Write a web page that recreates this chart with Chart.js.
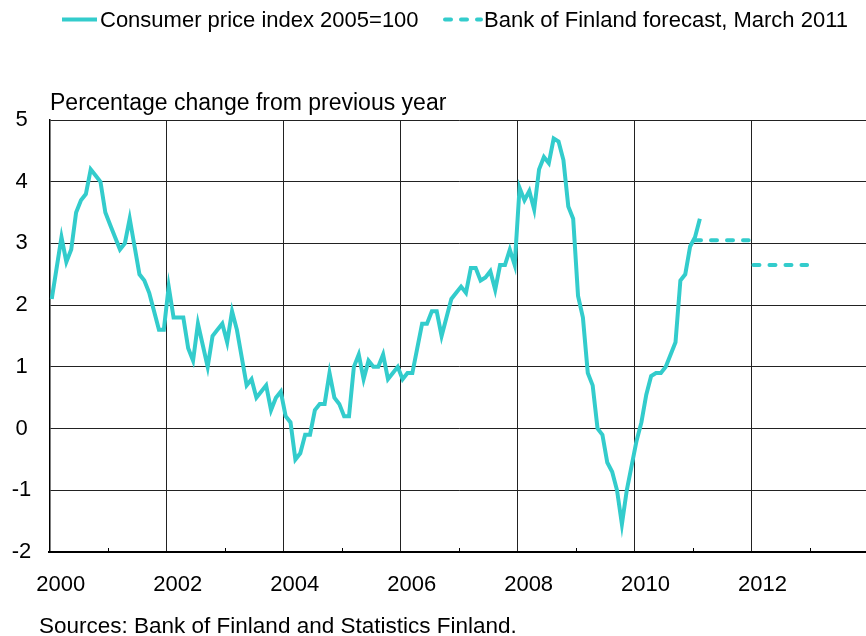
<!DOCTYPE html>
<html>
<head>
<meta charset="utf-8">
<script src="https://cdn.jsdelivr.net/npm/chart.js@4.4.1/dist/chart.umd.min.js"></script>
<style>
  html, body { margin: 0; padding: 0; background: #fff; overflow: hidden; }
  canvas { display: block; }
</style>
</head>
<body>
<canvas id="chart" width="868" height="636"></canvas>
<script>
// Monthly series starts in January of this year
const firstYear = 2000;

// Consumer prices, % change from previous year, Jan 2000 - Feb 2011
const cpiChange = [
  2.1, 2.6, 3.1, 2.7, 2.9, 3.5, 3.7, 3.8, 4.2, 4.1, 4.0, 3.5,
  3.3, 3.1, 2.9, 3.0, 3.4, 2.95, 2.5, 2.4, 2.2, 1.9, 1.6, 1.6,
  2.3, 1.8, 1.8, 1.8, 1.3, 1.1, 1.7, 1.35, 1.0, 1.5, 1.6, 1.7,
  1.4, 1.9, 1.6, 1.15, 0.7, 0.8, 0.5, 0.6, 0.7, 0.3, 0.5, 0.6,
  0.2, 0.1, -0.5, -0.4, -0.1, -0.1, 0.3, 0.4, 0.4, 0.9, 0.5, 0.4,
  0.2, 0.2, 1.0, 1.2, 0.8, 1.1, 1.0, 1.0, 1.2, 0.8, 0.9, 1.0,
  0.8, 0.9, 0.9, 1.3, 1.7, 1.7, 1.9, 1.9, 1.5, 1.8, 2.1, 2.2,
  2.3, 2.2, 2.6, 2.6, 2.4, 2.45, 2.55, 2.25, 2.65, 2.65, 2.9, 2.65,
  3.9, 3.7, 3.85, 3.55, 4.2, 4.4, 4.3, 4.7, 4.65, 4.35, 3.6, 3.4,
  2.15, 1.8, 0.9, 0.7, 0.0, -0.1, -0.55, -0.7, -1.0, -1.55, -1.0, -0.6,
  -0.2, 0.1, 0.55, 0.85, 0.9, 0.9, 1.0, 1.2, 1.4, 2.4, 2.5, 2.95,
  3.1, 3.4
];

// Annual forecast, drawn across the months of each year
const forecastYears = [2011, 2012];
const forecastChange = [3.05, 2.65];

// Axis labels
const yearLabels = [2000, 2002, 2004, 2006, 2008, 2010, 2012];
const minorTickYears = [2001, 2003, 2005, 2007, 2009, 2011, 2013];
const lastYear = 2014;

const seriesNames = ['Consumer price index 2005=100', 'Bank of Finland forecast, March 2011'];
const axisTitle = 'Percentage change from previous year';
const sourceNote = 'Sources: Bank of Finland and Statistics Finland.';

const lineColor = '#33CCCC';
const fontFamily = '"Liberation Sans", Arial, Helvetica, sans-serif';
const forecastDash = [6, 10];

// month index -> x value at the middle of the month
const cpiPoints = cpiChange.map((v, i) => ({ x: i + 0.5, y: v }));
const forecastPoints = [];
forecastYears.forEach((yr, k) => {
  const start = (yr - firstYear) * 12;
  if (k > 0) forecastPoints.push({ x: start, y: null });
  for (let m = 0; m < 12; m++) forecastPoints.push({ x: start + m + 0.5, y: forecastChange[k] });
});

Chart.defaults.font.family = fontFamily;
Chart.defaults.font.size = 22;
Chart.defaults.color = '#000';

// Title, legend, source note and the small yearly ticks on the time axis
const decorations = {
  id: 'decorations',
  afterDraw(chart) {
    const ctx = chart.ctx;
    const xs = chart.scales.x;
    const bottom = chart.chartArea.bottom;
    ctx.save();

    ctx.strokeStyle = '#000';
    ctx.lineWidth = 1;
    minorTickYears.forEach(yr => {
      const px = Math.round(xs.getPixelForValue((yr - firstYear) * 12)) + 0.5;
      ctx.beginPath();
      ctx.moveTo(px, bottom - 4);
      ctx.lineTo(px, bottom);
      ctx.stroke();
    });

    ctx.fillStyle = '#000';
    ctx.textBaseline = 'alphabetic';
    ctx.textAlign = 'left';
    ctx.font = '23px ' + fontFamily;
    ctx.fillText(axisTitle, 50, 110);
    ctx.font = '22.5px ' + fontFamily;
    ctx.fillText(sourceNote, 39, 633);

    // legend
    ctx.font = '22px ' + fontFamily;
    ctx.strokeStyle = lineColor;
    ctx.lineWidth = 4;
    ctx.beginPath();
    ctx.moveTo(62, 19.5);
    ctx.lineTo(97, 19.5);
    ctx.stroke();
    ctx.fillText(seriesNames[0], 100, 27);

    ctx.lineCap = 'round';
    ctx.setLineDash(forecastDash);
    ctx.beginPath();
    ctx.moveTo(445, 19.5);
    ctx.lineTo(481, 19.5);
    ctx.stroke();
    ctx.setLineDash([]);
    ctx.fillText(seriesNames[1], 484, 27);

    ctx.restore();
  }
};

new Chart(document.getElementById('chart'), {
  type: 'line',
  data: {
    datasets: [
      {
        label: seriesNames[0],
        data: cpiPoints,
        borderColor: lineColor,
        borderWidth: 4,
        pointRadius: 0,
        tension: 0,
        fill: false
      },
      {
        label: seriesNames[1],
        data: forecastPoints,
        borderColor: lineColor,
        borderWidth: 4,
        borderDash: forecastDash,
        borderCapStyle: 'round',
        pointRadius: 0,
        spanGaps: false,
        fill: false
      }
    ]
  },
  options: {
    responsive: false,
    animation: false,
    devicePixelRatio: 1,
    layout: { padding: { top: 120, right: 0, bottom: 0, left: 0 } },
    plugins: {
      legend: { display: false },
      tooltip: { enabled: false }
    },
    scales: {
      x: {
        type: 'linear',
        min: 0,
        max: (lastYear - firstYear) * 12,
        afterBuildTicks(scale) {
          scale.ticks = yearLabels.map(yr => ({ value: (yr - firstYear) * 12 }));
        },
        afterFit(scale) { scale.height = 84; },
        ticks: {
          callback: (v) => String(firstYear + v / 12),
          labelOffset: 11.5,
          padding: 20,
          maxRotation: 0,
          autoSkip: false,
          font: { size: 22 }
        },
        grid: { color: '#222', lineWidth: 1, drawTicks: false },
        border: { color: '#000', width: 2 }
      },
      y: {
        min: -2,
        max: 5,
        afterFit(scale) { scale.width = 49.3; },
        ticks: {
          stepSize: 1,
          crossAlign: 'center',
          padding: 18,
          font: { size: 22 }
        },
        grid: { color: '#222', lineWidth: 1, drawTicks: false },
        border: { color: '#000', width: 1.5 }
      }
    }
  },
  plugins: [decorations]
});
</script>
</body>
</html>
